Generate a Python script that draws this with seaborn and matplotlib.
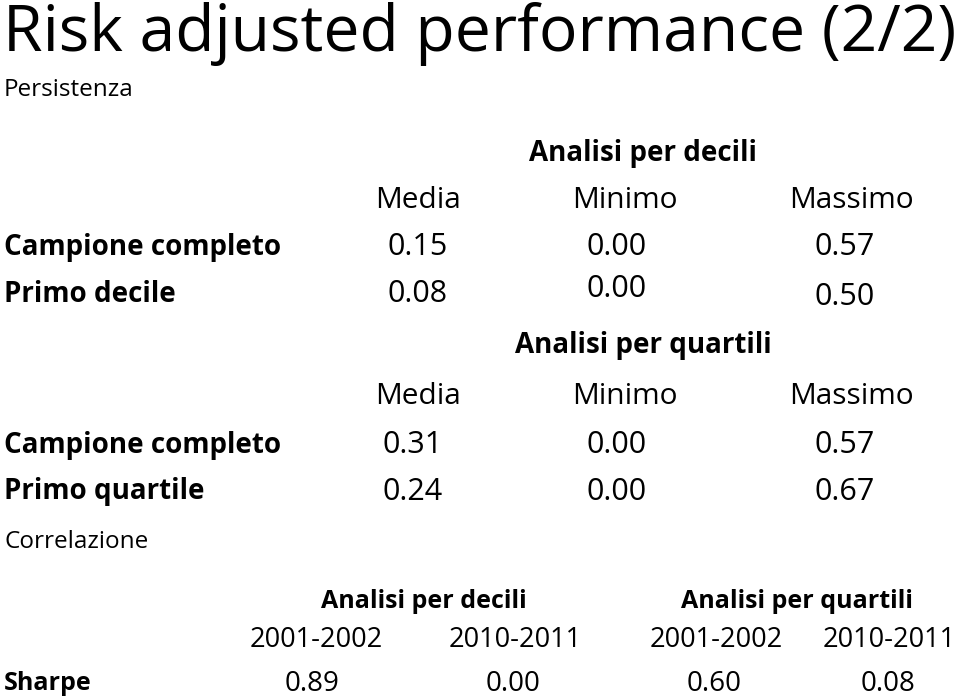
import matplotlib
matplotlib.use("Agg")
import matplotlib.pyplot as plt
import seaborn as sns

# dati della slide
col_labels = ["Media", "Minimo", "Massimo"]
rows_decili = ["Campione completo", "Primo decile"]
rows_quartili = ["Campione completo", "Primo quartile"]
decili_media = [0.15, 0.08]
decili_min = [0.00, 0.00]
decili_max = [0.57, 0.50]
quartili_media = [0.31, 0.24]
quartili_min = [0.00, 0.00]
quartili_max = [0.57, 0.67]
periodi = ["2001-2002", "2010-2011"]
sharpe_decili = [0.89, 0.00]
sharpe_quartili = [0.60, 0.08]

sns.set_theme(style="white")
plt.rcParams["font.family"] = ["Open Sans", "DejaVu Sans"]

fig = plt.figure(figsize=(9.6, 7), dpi=100)
ax = fig.add_axes([0, 0, 1, 1])
ax.set_xlim(0, 960)
ax.set_ylim(700, 0)
ax.axis("off")


def txt(x, y, s, size, ha="center", bold=False):
    ax.text(x, y, s, ha=ha, va="center", fontsize=size,
            fontweight="bold" if bold else "normal", color="black")


# titolo
txt(3, 34, "Risk adjusted performance (2/2)", 46.2, ha="left")
txt(4, 90, "Persistenza", 17.5, ha="left")

# blocco decili / quartili
col_x = [418, 625, 851]
val_x = [[418, 617, 845], [413, 617, 845]]
blocks = [
    ("Analisi per decili", 153, 200, rows_decili,
     [decili_media, decili_min, decili_max], [247, 294]),
    ("Analisi per quartili", 346, 397, rows_quartili,
     [quartili_media, quartili_min, quartili_max], [445, 492]),
]
# piccoli scostamenti verticali come nella slide originale
y_shift = {(0, 1, 1): -5, (0, 1, 2): 3}
for b, (title, ty, hy, rows, cols, row_y) in enumerate(blocks):
    txt(643, ty, title, 20, bold=True)
    for lab, x in zip(col_labels, col_x):
        txt(x, hy, lab, 21.5)
    for r, (name, y) in enumerate(zip(rows, row_y)):
        txt(4, y, name, 20, ha="left", bold=True)
        for c, values in enumerate(cols):
            dy = y_shift.get((b, r, c), 0)
            txt(val_x[b][c], y + dy, f"{values[r]:.2f}", 22)

# correlazione
txt(4, 542, "Correlazione", 17.5, ha="left")
txt(424, 601, "Analisi per decili", 18, bold=True)
txt(797, 601, "Analisi per quartili", 18, bold=True)
year_x = [316, 515, 716, 889]
sharpe_x = [312, 513, 714, 888]
labels = periodi + periodi
values = sharpe_decili + sharpe_quartili
for x, lab in zip(year_x, labels):
    txt(x, 640, lab, 19.5)
txt(4, 684, "Sharpe", 18, ha="left", bold=True)
for x, v in zip(sharpe_x, values):
    txt(x, 684, f"{v:.2f}", 20)

fig.savefig("out.png", dpi=100)
